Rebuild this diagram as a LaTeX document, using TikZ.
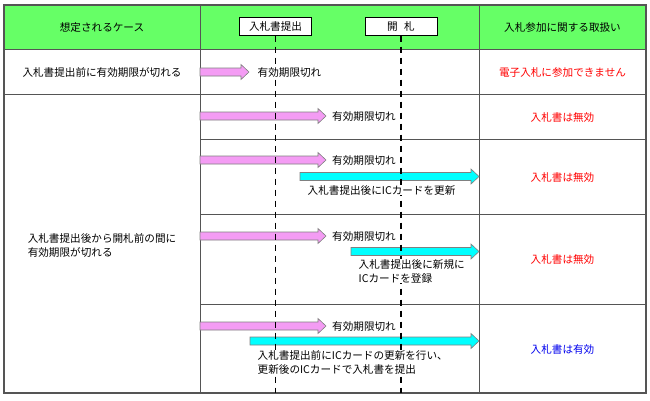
\documentclass[tikz,border=0pt]{standalone}
\usepackage{fontspec}
\setmainfont{Noto Sans CJK JP}
\usepackage{tikz, xcolor}

\definecolor{headgreen}{HTML}{66FF66}
\definecolor{expirepink}{HTML}{F49CF4}
\definecolor{cardcyan}{HTML}{00FFFF}
\definecolor{rulegray}{HTML}{555555}
\definecolor{okblue}{HTML}{0000EE}

\tikzset{
  txt/.style={font={\fontsize{10.6}{14}\selectfont}, inner sep=0pt, align=left},
  overtxt/.style={txt, fill=white, inner sep=0.5pt},
  ngtxt/.style={txt, text=red},
  oktxt/.style={txt, text=okblue},
  stagebox/.style={draw, fill=white, line width=1pt, minimum width=72pt, minimum height=18pt, inner sep=0pt, font={\fontsize{10.6}{12}\selectfont}},
  timeline/.style={line width=1.3pt, dash pattern=on 6pt off 5pt},
  arrowedge/.style={draw=gray, line width=0.6pt}
}

% block arrow: colour, x start, x end, y
\newcommand{\bigarrow}[4]{%
  \draw [arrowedge, fill=#1] (#2,#4-4) -- (#3-8,#4-4) -- (#3-8,#4-7.5) -- (#3,#4)
    -- (#3-8,#4+7.5) -- (#3-8,#4+4) -- (#2,#4+4) -- cycle;}

\begin{document}
\begin{tikzpicture}[x=1pt, y=-1pt]
    \useasboundingbox (0,0) rectangle (650,400);
    \fill [white] (0,0) rectangle (650,400);
    \fill [headgreen] (4,5) rectangle (646,49);

    % table rules
    \draw [rulegray, line width=0.8pt] (4,49) -- (646,49);
    \draw [rulegray, line width=0.8pt] (4,94.5) -- (646,94.5);
    \foreach \y in {139.5, 214.5, 304.5}
        \draw [rulegray, line width=0.8pt] (200,\y) -- (646,\y);
    \draw [rulegray, line width=0.8pt] (200,5) -- (200,393);
    \draw [rulegray, line width=0.8pt] (479,5) -- (479,393);
    \draw [rulegray, line width=1.5pt] (4,5) rectangle (646,393);

    % arrows
    \bigarrow{expirepink}{200}{249}{72}
    \bigarrow{expirepink}{200}{326}{116}
    \bigarrow{expirepink}{200}{326}{160}
    \bigarrow{cardcyan}{300}{479}{176.5}
    \bigarrow{expirepink}{200}{326}{236}
    \bigarrow{cardcyan}{351}{479}{251.5}
    \bigarrow{expirepink}{200}{326}{326}
    \bigarrow{cardcyan}{250}{479}{341}

    % header
    \node [txt] (hdcase) at (102,27) {想定されるケース};
    \node [txt] (hdrule) at (562.5,27) {入札参加に関する取扱い};
    \node [stagebox] (bid) at (275.5,26) {入札書提出};
    \node [stagebox] (open) at (401,26) {開\hspace{0.6em}札};
    \coordinate (bidend) at (275.5,393);
    \coordinate (openend) at (401,393);
    \draw [timeline] (bid.south) -- (bidend);
    \draw [timeline] (open.south) -- (openend);

    % case 1
    \node [txt] (case1) at (102,72) {入札書提出前に有効期限が切れる};
    \node [overtxt, anchor=west] (exp1) at (257,72) {有効期限切れ};
    \node [ngtxt] (rule1) at (562.5,72) {電子入札に参加できません};

    % cases 2--5
    \node [txt] (case2) at (102,245) {入札書提出後から開札前の間に\\有効期限が切れる};

    \node [txt, anchor=west] (exp2) at (332,116) {有効期限切れ};
    \node [ngtxt] (rule2) at (562.5,117) {入札書は無効};

    \node [txt, anchor=west] (exp3) at (332,160) {有効期限切れ};
    \node [overtxt, anchor=west] (card3) at (307,190) {入札書提出後にICカードを更新};
    \node [ngtxt] (rule3) at (562.5,177) {入札書は無効};

    \node [txt, anchor=west] (exp4) at (332,236) {有効期限切れ};
    \node [overtxt, anchor=north west] (card4) at (358,258.5) {入札書提出後に新規に\\ICカードを登録};
    \node [ngtxt] (rule4) at (562.5,259) {入札書は無効};

    \node [txt, anchor=west] (exp5) at (332,326) {有効期限切れ};
    \node [overtxt, anchor=north west] (card5) at (257,349.5) {入札書提出前にICカードの更新を行い、\\更新後のICカードで入札書を提出};
    \node [oktxt] (rule5) at (562.5,349) {入札書は有効};
\end{tikzpicture}
\end{document}
